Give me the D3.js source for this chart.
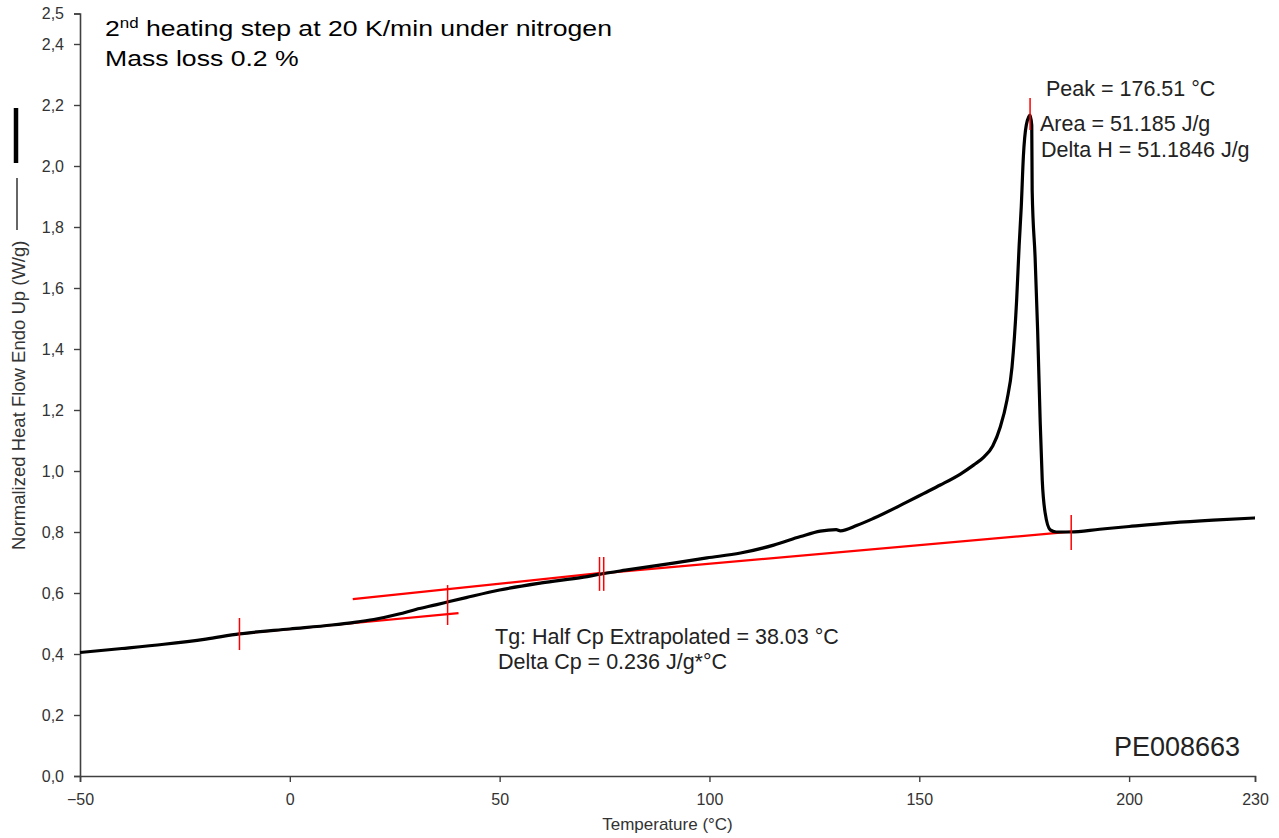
<!DOCTYPE html>
<html><head><meta charset="utf-8">
<script src="https://cdn.jsdelivr.net/npm/d3@7"></script>
<style>
body{margin:0;background:#fff}
svg{display:block}
text{font-family:"Liberation Sans",Arial,sans-serif}
</style>
</head><body>
<svg id="c" width="1279" height="838"></svg>
<script>
// ---- data ----
const temperature = [-50,-40,-30,-20,-12,0,10,15,20,26,30,35,38,42,50,60,70,74,80,91.4,99.4,107.4,115.3,121.7,126.4,130.2,131.2,135.2,139,147,151,155,159.8,163,165.5,167.5,169.3,170.9,172.1,173.2,173.8,174.3,174.8,175.5,176.4,176.8,176.9,177.6,178.2,178.8,179.3,180.0,181.2,182.6,186,193,200,210,220,230];
const heatFlow    = [0.405,0.418,0.432,0.449,0.466,0.482,0.495,0.503,0.513,0.531,0.546,0.562,0.572,0.585,0.610,0.633,0.652,0.662,0.675,0.698,0.715,0.731,0.757,0.785,0.803,0.808,0.804,0.822,0.844,0.898,0.926,0.954,0.990,1.020,1.047,1.082,1.144,1.233,1.341,1.56,1.74,1.866,2.03,2.134,2.167,2.134,1.92,1.70,1.462,1.167,0.97,0.862,0.807,0.800,0.800,0.809,0.818,0.830,0.839,0.846];

// red construction lines: [T start, T end] and [value start, value end]
const baselineT = [[-12,40.2],[15,73.8],[74.8,186.2]];
const baselineV = [[0.466,0.534],[0.580,0.665],[0.665,0.801]];

// red vertical markers: temperature, low value, high value
const markerT    = [-12,37.6,73.8,74.8,186.2,176.4];
const markerLow  = [0.413,0.495,0.607,0.607,0.741,2.118];
const markerHigh = [0.518,0.626,0.718,0.718,0.856,2.223];

const xTicks = [-50,0,50,100,150,200,230];
const yTicks = [0,0.2,0.4,0.6,0.8,1.0,1.2,1.4,1.6,1.8,2.0,2.2,2.4,2.5];

const titleLines = ["heating step at 20 K/min under nitrogen","Mass loss 0.2 %"];
const peakLines = ["Peak = 176.51 °C","Area = 51.185 J/g","Delta H = 51.1846 J/g"];
const tgLines = ["Tg: Half Cp Extrapolated = 38.03 °C","Delta Cp = 0.236 J/g*°C"];
const sampleId = "PE008663";
const xTitle = "Temperature (°C)";
const yTitle = "Normalized Heat Flow Endo Up (W/g)";

// ---- drawing ----
const svg = d3.select("#c");
const x = d3.scaleLinear([-50,230],[80,1255]);
const y = d3.scaleLinear([0,2.5],[776,13.5]);

const axisColor = "#404040";
const xAxis = svg.append("g").attr("transform","translate(0,776)")
  .call(d3.axisBottom(x).tickValues(xTicks).tickSize(6).tickPadding(12).tickFormat(d3.format("d")));
const yAxis = svg.append("g").attr("transform","translate(80,0)")
  .call(d3.axisLeft(y).tickValues(yTicks).tickSize(6).tickPadding(10)
    .tickFormat(d=>d3.format(".1f")(d).replace(".",",")));
[xAxis,yAxis].forEach(g=>{
  g.select(".domain").attr("stroke",axisColor).attr("stroke-width",1.6);
  g.selectAll(".tick line").attr("stroke",axisColor).attr("stroke-width",1.4);
  g.selectAll(".tick text").attr("fill","#333").attr("font-size",16)
    .attr("font-family","Liberation Sans, Arial, sans-serif");
});

// axis titles
svg.append("text").attr("x",(x.range()[0]+x.range()[1])/2).attr("y",830)
  .attr("text-anchor","middle").attr("font-size",17).attr("fill","#333").text(xTitle);
svg.append("text").attr("transform","translate(25,550) rotate(-90)")
  .attr("text-anchor","start").attr("font-size",18.5).attr("fill","#333").text(yTitle);
// legend samples next to the y title
svg.append("line").attr("x1",17).attr("x2",17).attr("y1",230).attr("y2",178)
  .attr("stroke","#333").attr("stroke-width",1.5);
svg.append("line").attr("x1",16).attr("x2",16).attr("y1",163).attr("y2",108)
  .attr("stroke","#000").attr("stroke-width",4.5);

// red construction lines
svg.append("g").selectAll("line").data(baselineT).join("line")
  .attr("x1",d=>x(d[0])).attr("x2",d=>x(d[1]))
  .attr("y1",(d,i)=>y(baselineV[i][0])).attr("y2",(d,i)=>y(baselineV[i][1]))
  .attr("stroke","#ff0000").attr("stroke-width",2.2);

// curve
const pts = temperature.map((t,i)=>[t,heatFlow[i]]);
svg.append("path").datum(pts)
  .attr("d",d3.line().x(d=>x(d[0])).y(d=>y(d[1])).curve(d3.curveMonotoneX))
  .attr("fill","none").attr("stroke","#000").attr("stroke-width",3.2).attr("stroke-linejoin","round");

// red markers
svg.append("g").selectAll("line").data(markerT).join("line")
  .attr("x1",d=>x(d)).attr("x2",d=>x(d))
  .attr("y1",(d,i)=>y(markerLow[i])).attr("y2",(d,i)=>y(markerHigh[i]))
  .attr("stroke","#ff0000").attr("stroke-width",1.5);

// title
const title = svg.append("g").attr("transform","translate(105,36) scale(1.21,1)");
const t1 = title.append("text").attr("font-size",22).attr("fill","#000");
t1.append("tspan").text("2");
t1.append("tspan").attr("font-size",14).attr("dy",-8).text("nd");
t1.append("tspan").attr("dy",8).text(" " + titleLines[0]);
svg.append("g").attr("transform","translate(105,66) scale(1.21,1)")
  .append("text").attr("font-size",22).attr("fill","#000").text(titleLines[1]);

// peak annotation
const peakPos = [[1046,96],[1040,131],[1041,157]];
svg.append("g").selectAll("text").data(peakLines).join("text")
  .attr("x",(d,i)=>peakPos[i][0]).attr("y",(d,i)=>peakPos[i][1])
  .attr("font-size",21.5).attr("fill","#222").text(d=>d);

// Tg annotation
const tgPos = [[495,644],[498,669]];
svg.append("g").selectAll("text").data(tgLines).join("text")
  .attr("x",(d,i)=>tgPos[i][0]).attr("y",(d,i)=>tgPos[i][1])
  .attr("font-size",21.5).attr("fill","#222").text(d=>d);

// sample id
svg.append("text").attr("x",1240).attr("y",756).attr("text-anchor","end")
  .attr("font-size",27).attr("fill","#222").text(sampleId);
</script>
</body></html>
